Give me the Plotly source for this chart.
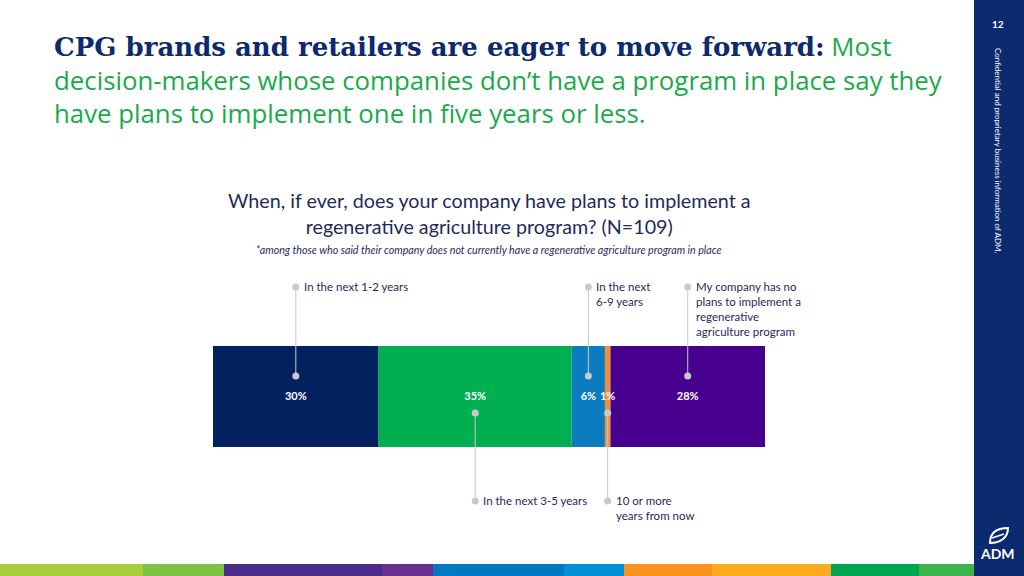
import plotly.graph_objects as go

# Survey answers (share of respondents, %)
categories = ['In the next 1-2 years', 'In the next 3-5 years', 'In the next 6-9 years',
              '10 or more years from now', 'My company has no plans to implement a regenerative agriculture program']
values = [30, 35, 6, 1, 28]
pct_labels = ['30%', '35%', '6%', '1%', '28%']
callout_text = ['In the next 1-2 years', 'In the next 3-5 years', 'In the next<br>6-9 years',
                '10 or more<br>years from now', 'My company has no<br>plans to implement a<br>regenerative<br>agriculture program']
callout_side = ['top', 'bottom', 'top', 'bottom', 'top']

colors = ['#03215f', '#00b050', '#0b7cc0', '#f0913a', '#48008f']
stripe_cols = ['#a6ce39', '#7dc142', '#4b2c8c', '#6b2f92', '#0079c1', '#0090d6',
               '#f7941d', '#fbab1c', '#00a651', '#3db54a']
stripe_edges = [0, 143, 224, 382, 433, 564, 624, 712, 831, 919, 974]

headline = ['<span style="font-family:DejaVu Serif;font-size:26px;color:#0c2a6e"><b>CPG brands and retailers are eager '
            'to move forward:</b></span> Most',
            'decision-makers whose companies don\u2019t have a program in place say they',
            'have plans to implement one in five years or less.']
question = ['When, if ever, does your company have plans to implement a',
            'regenerative agriculture program? (N=109)']

NAVY = '#0c2a6e'
TEXT = '#1f2a5c'
W, H = 1024, 576
BAR_L, BAR_R = 213, 765
BAR_T, BAR_B = 346, 447


def py(p):
    # pixel row -> y data value (bar sits at y=0, one unit tall)
    return ((BAR_T + BAR_B) / 2 - p) / (BAR_B - BAR_T)


def px_(x):
    return x / W


def py_(y):
    return 1 - y / H


fig = go.Figure()

# stacked bar
base = 0
centers = []
for cat, v, c in zip(categories, values, colors):
    fig.add_trace(go.Bar(x=[v], y=[0], base=base, orientation='h', width=1,
                         marker=dict(color=c, line=dict(width=0)), name=cat,
                         hoverinfo='name+x'))
    centers.append(base + v / 2)
    base += v

# percent labels
fig.add_trace(go.Scatter(x=centers, y=[py(397)] * len(centers), mode='text', text=pct_labels,
                         textfont=dict(family='Lato', size=11, color='white', weight='bold'),
                         hoverinfo='skip'))

# leader lines + callout text
for cx, txt, side in zip(centers, callout_text, callout_side):
    if side == 'top':
        y_lab, y_bar = py(287), py(376)
    else:
        y_lab, y_bar = py(501), py(413)
    fig.add_trace(go.Scatter(x=[cx, cx], y=[y_lab, y_bar], mode='lines+markers',
                             line=dict(color='#c9c9cd', width=1),
                             marker=dict(color='#c9c9cd', size=7), hoverinfo='skip'))
    fig.add_annotation(x=cx, y=y_lab, xref='x', yref='y', text=txt, showarrow=False,
                       xanchor='left', yanchor='top', align='left', xshift=6, yshift=9,
                       font=dict(family='Lato', size=11.5, color=TEXT))

fig.update_layout(
    width=W, height=H, margin=dict(l=0, r=0, t=0, b=0),
    paper_bgcolor='white', plot_bgcolor='rgba(0,0,0,0)', showlegend=False,
    barmode='overlay',
    xaxis=dict(range=[0, 100], domain=[BAR_L / W, BAR_R / W], visible=False, fixedrange=True),
    yaxis=dict(range=[py(H), py(0)], domain=[0, 1], visible=False, fixedrange=True),
)

# headline (one block, middle line centred at y=78px)
fig.add_annotation(xref='paper', yref='paper', x=px_(52), y=py_(79), xanchor='left', yanchor='middle',
                   showarrow=False, align='left', text='<br>'.join(headline),
                   font=dict(family='Open Sans', size=25.8, color='#1aaa4b'))

# chart question
fig.add_annotation(xref='paper', yref='paper', x=px_(489), y=py_(213.5), xanchor='center', yanchor='middle',
                   showarrow=False, align='center', text='<br>'.join(question),
                   font=dict(family='Lato', size=19.7, color=TEXT))
fig.add_annotation(xref='paper', yref='paper', x=px_(489), y=py_(249), xanchor='center', yanchor='middle',
                   showarrow=False,
                   text='<i>*among those who said their company does not currently have a regenerative agriculture program in place</i>',
                   font=dict(family='Lato', size=10.7, color=TEXT))

# right sidebar
fig.add_shape(type='rect', xref='paper', yref='paper', x0=px_(974), x1=1, y0=0, y1=1,
              fillcolor=NAVY, line=dict(width=0), layer='below')
fig.add_annotation(xref='paper', yref='paper', x=px_(998), y=py_(24), text='<b>12</b>', showarrow=False,
                   xanchor='center', yanchor='middle', font=dict(family='Lato', size=10, color='white'))
fig.add_annotation(xref='paper', yref='paper', x=px_(998), y=py_(150), textangle=90, showarrow=False,
                   xanchor='center', yanchor='middle',
                   text='Confidential and proprietary business information of ADM.',
                   font=dict(family='Lato', size=8, color='white'))
fig.add_annotation(xref='paper', yref='paper', x=px_(997), y=py_(553), text='<b>ADM</b>', showarrow=False,
                   xanchor='center', yanchor='middle', font=dict(family='Lato', size=14, color='white'))
# leaf mark
fig.add_shape(type='path', xref='paper', yref='paper', line=dict(color='white', width=2),
              path=(f'M {px_(990)},{py_(543)} C {px_(990)},{py_(532)} {px_(998)},{py_(528)} {px_(1008)},{py_(528)} '
                    f'C {px_(1008)},{py_(538)} {px_(1000)},{py_(543)} {px_(990)},{py_(543)} Z'))
fig.add_shape(type='line', xref='paper', yref='paper', x0=px_(992), y0=py_(538), x1=px_(1004), y1=py_(534),
              line=dict(color='white', width=1.5))

# bottom colour stripe
for i, c in enumerate(stripe_cols):
    fig.add_shape(type='rect', xref='paper', yref='paper', x0=px_(stripe_edges[i]), x1=px_(stripe_edges[i + 1]),
                  y0=0, y1=12 / H, fillcolor=c, line=dict(width=0))

fig.write_html('out.html', config={'displayModeBar': False},
               post_script="document.body.style.margin='0';document.body.style.overflow='hidden';")
